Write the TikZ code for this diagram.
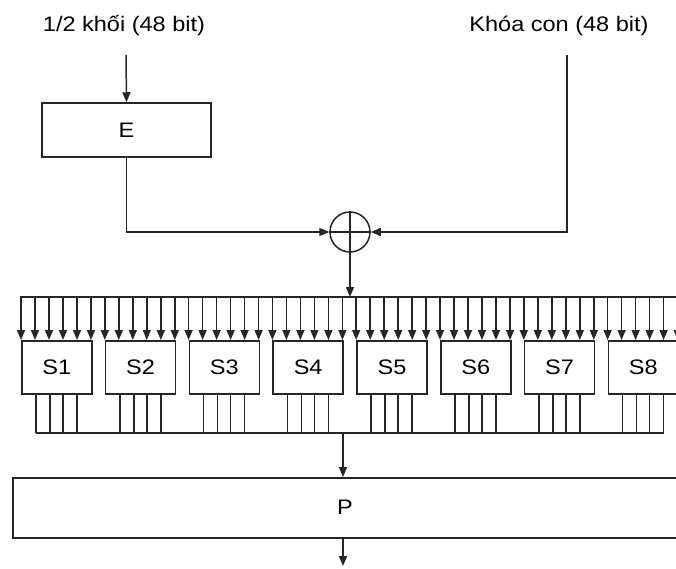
\documentclass[tikz,border=0pt]{standalone}
\usepackage{fontspec}
\setmainfont[FakeStretch=1.12]{Liberation Sans}
\usetikzlibrary{arrows.meta,calc}
\begin{document}
\begin{tikzpicture}[x=1pt,y=-1pt,
  ln/.style={draw=black!85,line width=1.5pt},
  arr/.style={ln,-{Triangle[length=10pt,width=8pt]}},
  boxnode/.style={ln,fill=white,inner sep=0pt,font=\fontsize{21}{25}\selectfont},
  sbox/.style={boxnode,minimum width=70pt,minimum height=53pt,anchor=north west},
  lbl/.style={inner sep=0pt,font=\fontsize{21}{25}\selectfont}]
\useasboundingbox (0,0) rectangle (676,569);
% labels
\node[lbl] (lin) at (124,26) {1/2 khối (48 bit)};
\node[lbl] (lkey) at (559,26) {Khóa con (48 bit)};
\coordinate (ein) at (126,55);
\coordinate (kin) at (567,55);
% E box
\node[boxnode,minimum width=169pt,minimum height=54pt] (E) at (126.5,130) {E};
\draw[arr] (ein) -- (E.north);
% XOR
\node[ln,circle,minimum size=40pt,inner sep=0pt] (X) at (350,232) {};
\draw[ln] (X.north) -- (X.south) (X.west) -- (X.east);
\draw[arr] (E.south) |- (X.west);
\draw[arr] (kin) |- (X.east);
% top bus
\coordinate (tb0) at (20,297);
\coordinate (tb1) at (678,297);
\draw[ln] (tb0) -- (tb1);
\draw[arr] (X.south) -- (X.south |- tb0);
% S boxes
\foreach \i in {1,...,8}{
  \node[sbox] (s\i) at ({21+(\i-1)*83.8},340) {S\i};
  \foreach \k in {0,...,5}{
    \path (s\i.north west) ++({\k*14},0) coordinate (in\i\k);
    \draw[arr] (in\i\k |- tb0) -- (in\i\k);
  }
  \foreach \d [count=\k] in {15,29,42,56}{
    \path (s\i.south west) ++(\d,0) coordinate (out\i\k);
    \draw[ln] (out\i\k) -- (out\i\k |- 0,433);
  }
}
\coordinate (bb) at (343,433);
\draw[ln] (out11 |- bb) -- (out84 |- bb);
% P box
\node[boxnode,minimum width=670pt,minimum height=60pt,anchor=north west] (P) at (12,477) {};
\node[lbl] (Pl) at (345,507) {P};
\draw[arr] (bb) -- (bb |- P.north);
\coordinate (pout) at (345,566);
\draw[arr] (bb |- P.south) -- (bb |- pout);
\end{tikzpicture}
\end{document}
